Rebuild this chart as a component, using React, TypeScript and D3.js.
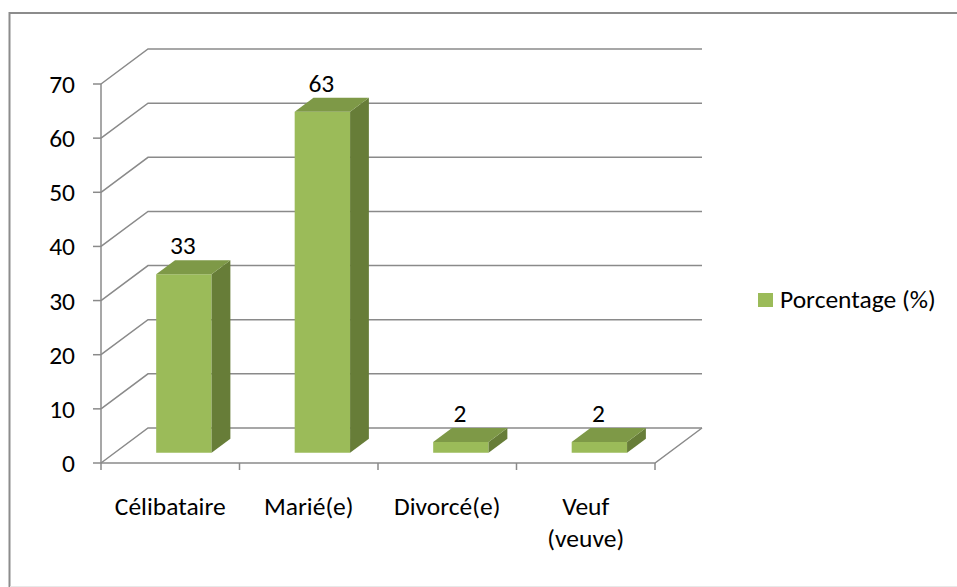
import React from "react";
import * as d3 from "d3";

const categories = ["Célibataire", "Marié(e)", "Divorcé(e)", "Veuf\n(veuve)"];
const values = [33, 63, 2, 2];
const yTicks = [0, 10, 20, 30, 40, 50, 60, 70];
const seriesName = "Porcentage (%)";

const W = 957;
const H = 587;
const ox = 101; // front-left floor corner
const oy = 463;
const plotW = 554;
const depthX = 47;
const depthY = 35;
const f1 = 0.29;
const f2 = 0.69;
const FONT = "Carlito, Calibri, Lato, sans-serif";
const FS = 25.5;
const GRID = "#8a8a8a";

export default function App() {
  const x = d3.scaleBand<string>().domain(categories).range([0, plotW]).paddingInner(0.6).paddingOuter(0.3);
  const xAxis = d3.scaleBand<string>().domain(categories).range([0, plotW]).padding(0);
  const y = d3.scaleLinear().domain([0, 70]).range([0, 379]);

  const P = (px: number, h: number, d: number): [number, number] => [ox + px + d * depthX, oy - h - d * depthY];
  const poly = (pts: [number, number][]) => d3.line()(pts) + "Z";

  const boundaries = [...categories.map((c) => xAxis(c) as number), plotW];

  return (
    <svg width={W} height={H} style={{ position: "absolute", left: 0, top: 0, background: "#fff" }} fontFamily={FONT} fontSize={FS}>
      {/* outer border */}
      <path d={`M9.5,${H + 2} V13 H${W + 2}`} fill="none" stroke="#8c8c8c" strokeWidth={2} />
      <line x1={10} x2={W} y1={586.5} y2={586.5} stroke="#e8e8e8" strokeWidth={1} />

      {/* back wall gridlines and left wall diagonals */}
      {yTicks.map((t) => {
        const a = P(0, y(t), 0);
        const b = P(0, y(t), 1);
        const c = P(plotW, y(t), 1);
        return (
          <g key={t}>
            <path d={d3.line()([a, b, c]) as string} fill="none" stroke={GRID} strokeWidth={1.5} />
            <line x1={a[0] - 8} x2={a[0]} y1={a[1]} y2={a[1]} stroke={GRID} strokeWidth={1.5} />
            <text x={75} y={a[1] + 9} textAnchor="end" fill="#000">{t}</text>
          </g>
        );
      })}
      {/* vertical axis */}
      <line x1={ox} x2={ox} y1={oy} y2={P(0, y(70), 0)[1]} stroke={GRID} strokeWidth={1.5} />
      {/* floor */}
      <path d={d3.line()([P(0, 0, 0), P(plotW, 0, 0), P(plotW, 0, 1)]) as string} fill="none" stroke={GRID} strokeWidth={1.5} />
      {boundaries.map((b, i) => {
        const p = P(b, 0, 0);
        return <line key={i} x1={p[0]} x2={p[0]} y1={p[1]} y2={p[1] + 7} stroke={GRID} strokeWidth={1.5} />;
      })}

      {/* bars */}
      {categories.map((c, i) => {
        const x0 = x(c) as number;
        const x1 = x0 + x.bandwidth();
        const h = y(values[i]);
        const front = poly([P(x0, 0, f1), P(x1, 0, f1), P(x1, h, f1), P(x0, h, f1)]);
        const side = poly([P(x1, 0, f1), P(x1, 0, f2), P(x1, h, f2), P(x1, h, f1)]);
        const top = poly([P(x0, h, f1), P(x1, h, f1), P(x1, h, f2), P(x0, h, f2)]);
        const lx = (P(x0, h, f1)[0] + P(x1, h, f1)[0]) / 2 - 1;
        const ly = P(x0, h, f2)[1] - 6;
        return (
          <g key={c}>
            <path d={front} fill="#9bbb59" />
            <path d={side} fill="#677d38" />
            <path d={top} fill="#7e9947" />
            <text x={lx} y={ly} textAnchor="middle" fill="#000">{values[i]}</text>
          </g>
        );
      })}

      {/* category labels */}
      {categories.map((c) => {
        const cx = P((xAxis(c) as number) + xAxis.bandwidth() / 2, 0, 0)[0];
        return (
          <text key={c} x={cx} y={515} textAnchor="middle" fill="#000">
            {c.split("\n").map((line, j) => (
              <tspan key={j} x={cx} y={515 + j * 32}>{line}</tspan>
            ))}
          </text>
        );
      })}

      {/* legend */}
      <rect x={758} y={293} width={15} height={14} fill="#9bbb59" />
      <text x={780} y={308} fill="#000">{seriesName}</text>
    </svg>
  );
}
